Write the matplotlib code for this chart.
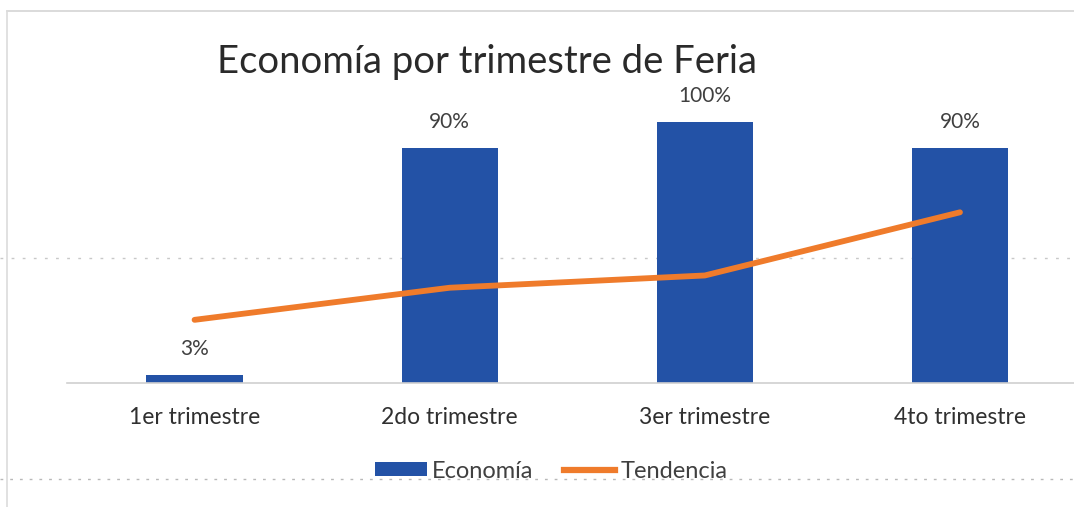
import matplotlib
matplotlib.use("Agg")
import matplotlib.pyplot as plt
from matplotlib.lines import Line2D
from matplotlib.patches import Patch

categories = ["1er trimestre", "2do trimestre", "3er trimestre", "4to trimestre"]
economia = [3, 90, 100, 90]
tendencia = [24.2, 36.5, 41.2, 65.4]
bar_labels = ["3%", "90%", "100%", "90%"]
title = "Economía por trimestre de Feria"

BLUE = "#2352A6"
ORANGE = "#EF7B2B"
TEXT = "#404040"

plt.rcParams['font.family'] = ['Lato', 'DejaVu Sans']

W, H = 1074, 507
fig = plt.figure(figsize=(W / 100, H / 100), dpi=100)
fig.patch.set_facecolor("white")

def fx(px):
    return px / W

def fy(py):
    return 1 - py / H

# axes: left at 67px, baseline at 383px, 100% at 122px
ax = fig.add_axes([fx(67), fy(383), fx(W - 67), (383 - 122) / H])
x = list(range(len(categories)))
ax.bar(x, economia, width=0.377, color=BLUE, zorder=2)
ax.plot(x, tendencia, color=ORANGE, lw=4.2, solid_capstyle="round", zorder=3)

for xi, v, lab in zip(x, economia, bar_labels):
    ax.annotate(lab, (xi, v), xytext=(0, 14.4), textcoords="offset points",
                ha="center", va="baseline", fontsize=15, color=TEXT)

ax.set_xlim(-0.5, 3.447)
ax.set_ylim(0, 100)
ax.set_xticks(x)
ax.set_xticklabels(categories, fontsize=16.5, color="#303030")
ax.tick_params(axis="x", length=0, pad=17)
ax.set_yticks([])
for s in ["top", "right", "left"]:
    ax.spines[s].set_visible(False)
ax.spines["bottom"].set_color("#d0d0d0")
ax.spines["bottom"].set_linewidth(1.2)
ax.set_facecolor("none")

# title
fig.text(fx(487), fy(73), title, ha="center", va="baseline",
         fontsize=27.5, color="#2a2a2a")

# chart border and faint scan lines
fig.add_artist(Line2D([fx(7), 1], [fy(11), fy(11)], color="#d4d4d4", lw=1.2))
fig.add_artist(Line2D([fx(7), fx(7)], [fy(11), 0], color="#dcdcdc", lw=1.2))
fig.add_artist(Line2D([0, 1], [fy(258), fy(258)], color="#c8c8c8", lw=1,
                      ls=(0, (2, 6)), zorder=0))
fig.add_artist(Line2D([0, 1], [fy(479), fy(479)], color="#b8b8b8", lw=1,
                      ls=(0, (2, 5)), zorder=0))

handles = [Patch(facecolor=BLUE, edgecolor="none"),
           Line2D([0], [0], color=ORANGE, lw=4.5)]
leg = fig.legend(handles, ["Economía", "Tendencia"], loc="center",
                 bbox_to_anchor=(fx(551), fy(471)), ncol=2, frameon=False,
                 fontsize=17, handlelength=2.2, handleheight=0.5,
                 handletextpad=0.2, columnspacing=1.3)
for t in leg.get_texts():
    t.set_color(TEXT)

fig.savefig("out.png", dpi=100, facecolor="white")
